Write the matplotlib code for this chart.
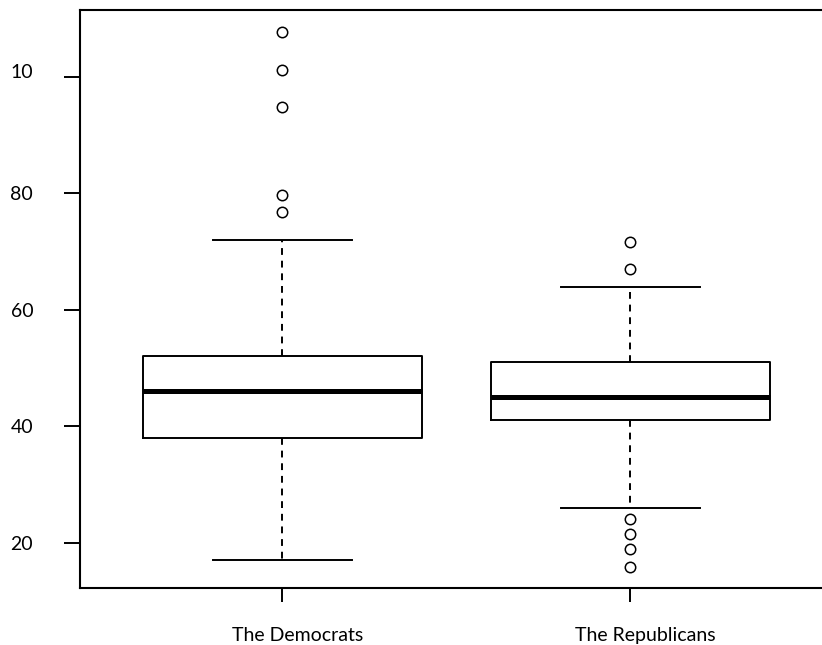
import matplotlib
matplotlib.use('Agg')
import matplotlib.pyplot as plt
import matplotlib.transforms as mtransforms

# data
groups = ['The Democrats', 'The Republicans']
q1 = [38, 41]
median = [46, 45]
q3 = [52, 51]
whisker_low = [17, 26]
whisker_high = [72, 64]
outliers = [
    [107.8, 101.2, 94.9, 79.7, 76.8],
    [71.7, 67.0, 24.0, 21.5, 18.9, 15.8],
]
y_ticks = [20, 40, 60, 80, 100]
y_tick_labels = ['20', '40', '60', '80', '10']

plt.rcParams['font.family'] = ['Lato', 'DejaVu Sans']

fig = plt.figure(figsize=(8.22, 6.45), dpi=100)
ax = fig.add_axes([79.7 / 822, (645 - 588.3) / 645, (833 - 79.7) / 822, (588.3 - 9.7) / 645])

stats = []
for i, name in enumerate(groups):
    stats.append({
        'label': name,
        'q1': q1[i], 'med': median[i], 'q3': q3[i],
        'whislo': whisker_low[i], 'whishi': whisker_high[i],
        'fliers': outliers[i],
    })

ax.bxp(stats, positions=[1, 2], widths=0.8, capwidths=0.4, showfliers=True,
       boxprops=dict(color='black', linewidth=1.4),
       medianprops=dict(color='black', linewidth=3.6, solid_capstyle='butt'),
       whiskerprops=dict(color='black', linewidth=1.4, linestyle=(0, (3.5, 3))),
       capprops=dict(color='black', linewidth=1.4),
       flierprops=dict(marker='o', markersize=7.5, markerfacecolor='none',
                       markeredgecolor='black', markeredgewidth=1.1))

ax.set_xlim(0.418, 2.582)
ax.set_ylim(12.17, 111.56)
ax.set_yticks(y_ticks)
ax.set_yticklabels(y_tick_labels)
ax.set_xticks([1, 2])
ax.set_xticklabels(groups)

ax.tick_params(axis='y', length=11.5, width=1.4, pad=22, labelsize=14)
ax.tick_params(axis='x', length=10, width=1.4, pad=18, labelsize=14)
for s in ax.spines.values():
    s.set_linewidth(1.5)

# labels in the reference sit a little right of their ticks
shift = mtransforms.ScaledTranslation(0.15, 0, fig.dpi_scale_trans)
for lab in ax.get_xticklabels():
    lab.set_transform(lab.get_transform() + shift)
# top label sits slightly above its tick
top = ax.get_yticklabels()[-1]
top.set_transform(top.get_transform() + mtransforms.ScaledTranslation(0, 0.06, fig.dpi_scale_trans))

fig.savefig('out.png', dpi=100)
